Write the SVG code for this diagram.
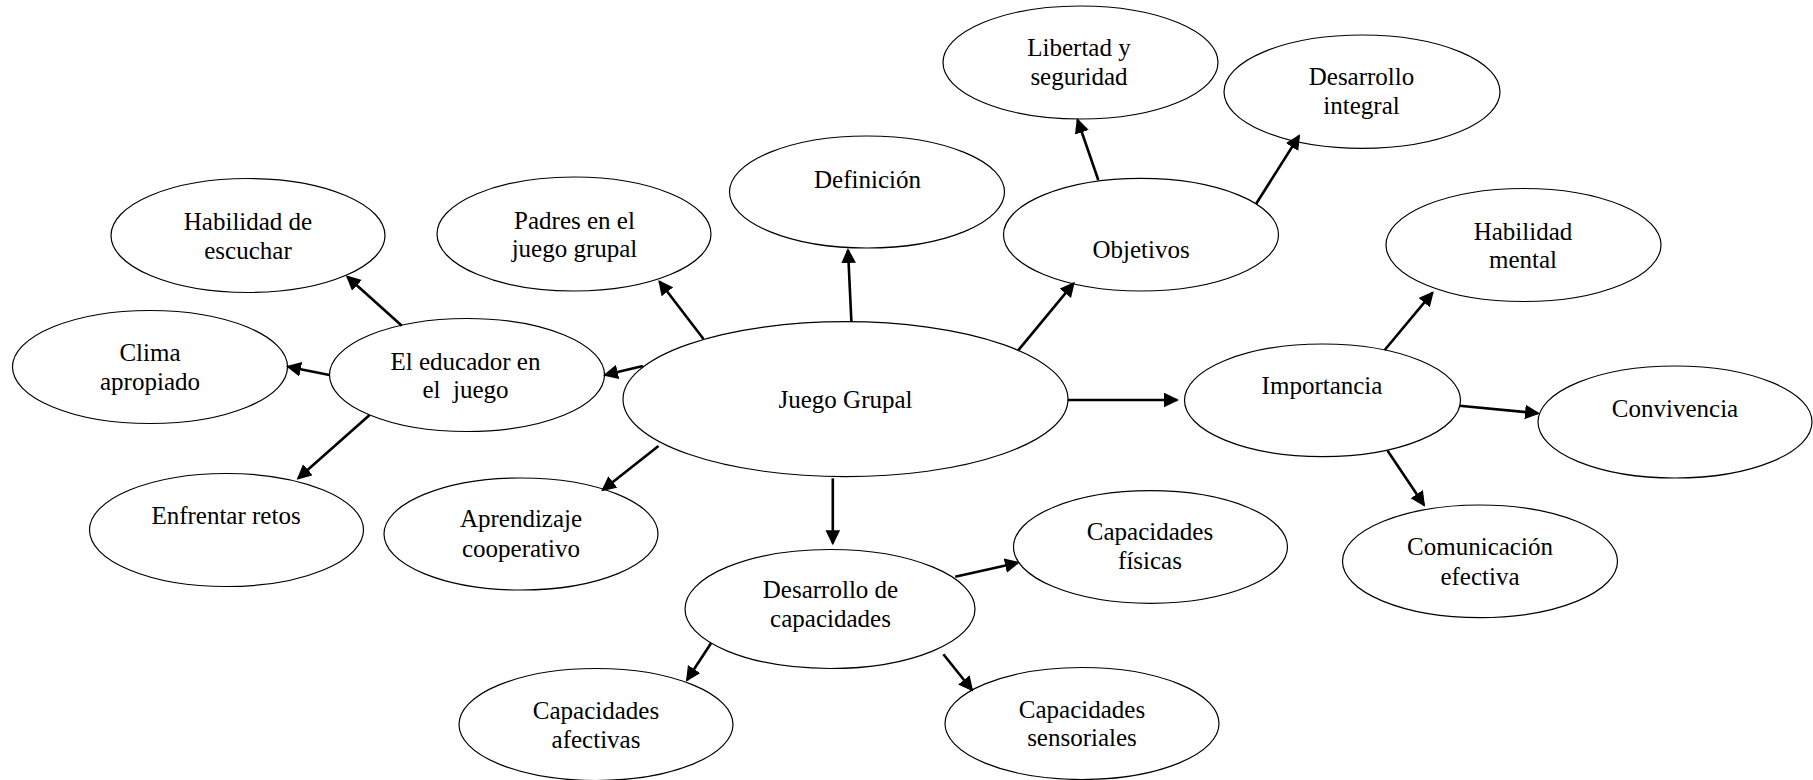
<svg xmlns="http://www.w3.org/2000/svg" width="1813" height="780" viewBox="0 0 1813 780">
<style>
.n ellipse{fill:#fff;stroke:#000;stroke-width:1.2}
.n text{font-family:"Liberation Serif","Times New Roman",serif;font-size:25px;fill:#000;text-anchor:middle}
#connectors line{stroke:#000;stroke-width:2.6;fill:none;marker-end:url(#ah)}
</style>
<defs>
<marker id="ah" markerUnits="userSpaceOnUse" markerWidth="16" markerHeight="15" refX="13" refY="7.35" orient="auto">
<path d="M0,0 L15,7.35 L0,14.7 Z" fill="#000"/>
</marker>
</defs>
<rect width="1813" height="780" fill="#fff"/>
<g class="n">
<g id="hab_escuchar"><ellipse cx="248" cy="235.5" rx="137" ry="57"/><text x="248" y="230">Habilidad de</text><text x="248" y="259">escuchar</text></g>
<g id="padres"><ellipse cx="574" cy="234" rx="137" ry="57"/><text x="574.5" y="228.5">Padres en el</text><text x="574.5" y="257">juego grupal</text></g>
<g id="clima"><ellipse cx="150" cy="367" rx="137.5" ry="56.5"/><text x="150" y="361">Clima</text><text x="150" y="390">apropiado</text></g>
<g id="educador"><ellipse cx="467" cy="375" rx="137.5" ry="56.5"/><text x="465.5" y="369.5">El educador en</text><text x="465.5" y="397.5" xml:space="preserve" style="white-space:pre">el  juego</text></g>
<g id="enfrentar"><ellipse cx="226.5" cy="530" rx="137" ry="56.5"/><text x="226" y="524">Enfrentar retos</text></g>
<g id="aprendizaje"><ellipse cx="521" cy="534" rx="137" ry="56"/><text x="521" y="527">Aprendizaje</text><text x="521" y="557">cooperativo</text></g>
<g id="juego"><ellipse cx="845.5" cy="399.2" rx="222.5" ry="77.5"/><text x="845.5" y="407.5">Juego Grupal</text></g>
<g id="definicion"><ellipse cx="867" cy="192" rx="137.5" ry="56"/><text x="867.5" y="187.5">Definición</text></g>
<g id="libertad"><ellipse cx="1080.5" cy="62.5" rx="137.5" ry="56.5"/><text x="1079" y="56">Libertad y</text><text x="1079" y="85">seguridad</text></g>
<g id="des_integral"><ellipse cx="1362" cy="91.7" rx="138" ry="56.7"/><text x="1361.5" y="85">Desarrollo</text><text x="1361.5" y="114">integral</text></g>
<g id="objetivos"><ellipse cx="1141" cy="234.7" rx="137.5" ry="56.3"/><text x="1141" y="257.5">Objetivos</text></g>
<g id="importancia"><ellipse cx="1322.5" cy="400.3" rx="138" ry="56.3"/><text x="1322" y="393.5">Importancia</text></g>
<g id="hab_mental"><ellipse cx="1523.5" cy="245" rx="137.5" ry="56.5"/><text x="1523" y="239.5">Habilidad</text><text x="1523" y="268">mental</text></g>
<g id="convivencia"><ellipse cx="1675" cy="422" rx="137" ry="56"/><text x="1675" y="417">Convivencia</text></g>
<g id="comunicacion"><ellipse cx="1480" cy="561.3" rx="137.5" ry="56.3"/><text x="1480" y="555">Comunicación</text><text x="1480" y="585">efectiva</text></g>
<g id="des_cap"><ellipse cx="830" cy="609" rx="145" ry="59.5"/><text x="830.5" y="597.5">Desarrollo de</text><text x="830.5" y="627">capacidades</text></g>
<g id="fisicas"><ellipse cx="1150.5" cy="547" rx="137" ry="56.3"/><text x="1150" y="540">Capacidades</text><text x="1150" y="569">físicas</text></g>
<g id="afectivas"><ellipse cx="596" cy="724.5" rx="137" ry="56"/><text x="596" y="718.5">Capacidades</text><text x="596" y="747.5">afectivas</text></g>
<g id="sensoriales"><ellipse cx="1082" cy="723.5" rx="137" ry="56"/><text x="1082" y="717.5">Capacidades</text><text x="1082" y="746">sensoriales</text></g>
</g>
<g id="connectors">
<line x1="401.8" y1="325.7" x2="347.3" y2="276.7"/>
<line x1="329.5" y1="375" x2="288" y2="366.7"/>
<line x1="369.6" y1="415" x2="298.2" y2="478.3"/>
<line x1="642.9" y1="366" x2="605" y2="375"/>
<line x1="703.5" y1="339" x2="659.5" y2="281.5"/>
<line x1="658.5" y1="446" x2="602.7" y2="490"/>
<line x1="851.4" y1="321.7" x2="848" y2="250"/>
<line x1="1018" y1="350.7" x2="1073.6" y2="283.3"/>
<line x1="1098.3" y1="180" x2="1077.6" y2="120"/>
<line x1="1256" y1="204" x2="1299" y2="136"/>
<line x1="1067.9" y1="400" x2="1177" y2="400"/>
<line x1="1384.7" y1="350" x2="1432.5" y2="292.7"/>
<line x1="1459.5" y1="405.7" x2="1538" y2="413.3"/>
<line x1="1387.6" y1="450.7" x2="1424" y2="505"/>
<line x1="832.8" y1="478.3" x2="832.8" y2="543.3"/>
<line x1="955.2" y1="576.7" x2="1018" y2="562.7"/>
<line x1="711" y1="643.3" x2="687" y2="680"/>
<line x1="943.4" y1="654.3" x2="972" y2="690"/>
</g>
</svg>
